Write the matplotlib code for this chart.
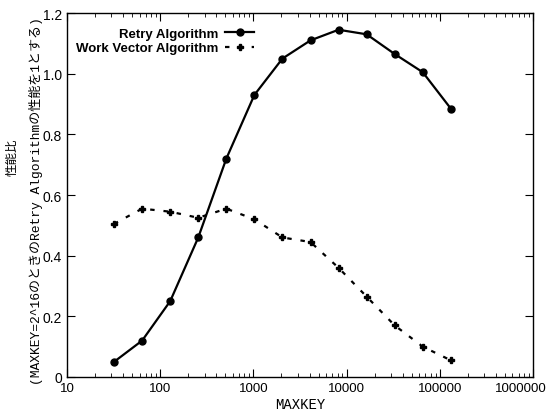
import matplotlib
matplotlib.use('Agg')
from matplotlib import pyplot as plt
from matplotlib.ticker import LogLocator, FixedLocator, NullFormatter, FuncFormatter
from matplotlib.lines import Line2D
from matplotlib.transforms import ScaledTranslation

maxkey = [32, 64, 128, 256, 512, 1024, 2048, 4096, 8192, 16384, 32768, 65536, 131072]
retry = [0.05, 0.12, 0.25, 0.46, 0.72, 0.93, 1.05, 1.11, 1.145, 1.13, 1.065, 1.005, 0.885]
work_vector = [0.505, 0.555, 0.545, 0.525, 0.555, 0.52, 0.46, 0.445, 0.36, 0.265, 0.17, 0.10, 0.055]
x_ticks = [10, 100, 1000, 10000, 100000, 1000000]
y_ticks = [0, 0.2, 0.4, 0.6, 0.8, 1.0, 1.2]

plt.rcParams['font.family'] = ['Liberation Sans', 'Noto Sans CJK JP']

fig = plt.figure(figsize=(5.49, 4.14), dpi=100)
ax = fig.add_axes([0.122, 0.087, 0.849, 0.879])

ax.plot(maxkey, retry, color='black', lw=1.6, marker='o', markersize=5,
        label='Retry Algorithm')
ax.plot(maxkey, work_vector, color='black', lw=1.6, linestyle=(0, (2, 4)),
        marker='P', markersize=5, label='Work Vector Algorithm')

ax.set_xscale('log')
ax.set_xlim(10, 1000000)
ax.set_ylim(0, 1.2)
ax.xaxis.set_major_locator(FixedLocator(x_ticks))
ax.xaxis.set_major_formatter(FuncFormatter(lambda v, p: f'{int(round(v))}'))
ax.xaxis.set_minor_locator(LogLocator(base=10, subs=range(2, 10)))
ax.xaxis.set_minor_formatter(NullFormatter())
ax.yaxis.set_major_locator(FixedLocator(y_ticks))
ax.yaxis.set_major_formatter(FuncFormatter(lambda v, p: '0' if v == 0 else f'{v:.1f}'))

ax.tick_params(which='both', direction='in', top=True, right=True)
ax.tick_params(axis='x', labelsize=9.5)
ax.tick_params(axis='y', labelsize=10)
ax.tick_params(which='major', length=6)
ax.tick_params(which='minor', length=3)
for s in ax.spines.values():
    s.set_linewidth(1.0)

ax.set_xlabel('MAXKEY', family='Liberation Mono', fontsize=10, labelpad=2)

# keep the last x label inside the figure
fig.canvas.draw()
last = ax.get_xticklabels()[-1]
last.set_transform(last.get_transform() + ScaledTranslation(-12 / 100, 0, fig.dpi_scale_trans))

# two-part y label
fig.text(0.022, 0.62, '性能比', rotation=90, ha='center', va='center',
         family=['Noto Sans CJK JP'], fontsize=9)
fig.text(0.066, 0.514, '(MAXKEY=2^16のときのRetry Algorithmの性能を1とする)',
         rotation=90, ha='center', va='center',
         family=['Liberation Mono', 'Noto Sans CJK JP'], fontsize=9.4)

handles = [Line2D([], [], color='black', lw=1.6, marker='o', markersize=5),
           Line2D([], [], color='black', lw=1.6, linestyle=(0, (2, 4)), marker='P', markersize=5)]
leg = ax.legend(handles, ['Retry Algorithm', 'Work Vector Algorithm'],
                loc='upper left', bbox_to_anchor=(0.0, 0.985), frameon=False,
                markerfirst=False, handlelength=2.2, fontsize=9.5,
                borderpad=0.2, labelspacing=0.15, handletextpad=0.5)
for t in leg.get_texts():
    t.set_fontweight('bold')
    t.set_ha('right')

fig.savefig('out.png', dpi=100)
